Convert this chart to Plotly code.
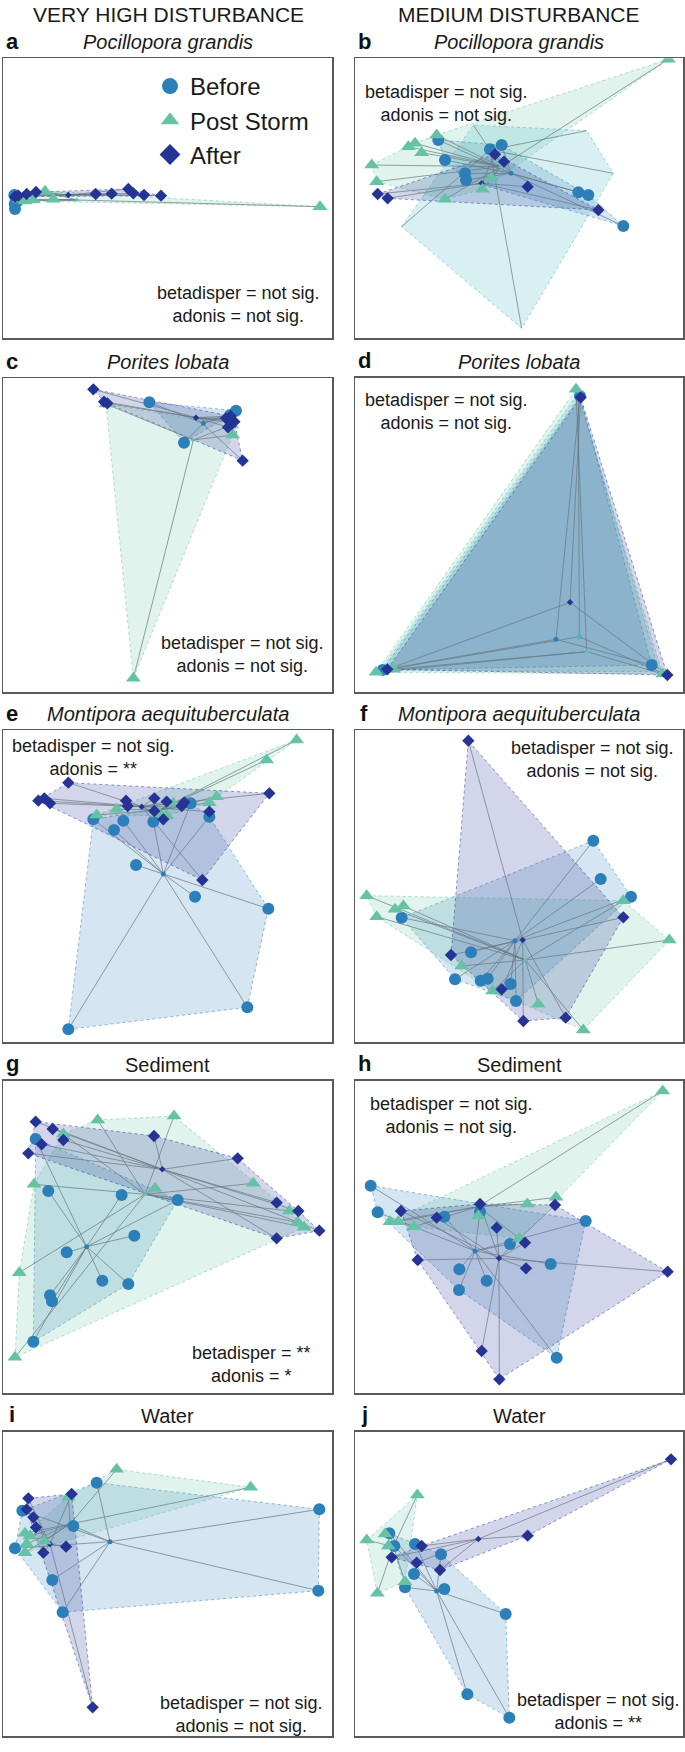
import plotly.graph_objects as go

W, H = 685, 1752

# ---------------- DATA (ordination scores, image units) ----------------
GROUPS = ["Before", "Post Storm", "After"]

a_before = [(43, 585), (47, 596), (52, 604), (44, 612), (45, 627)]
a_post = [(58, 598), (75, 603), (135, 574), (160, 598), (100, 600), (960, 620)]
a_after = [(45, 590), (80, 582), (108, 576), (287, 582), (335, 581), (385, 567), (400, 580),
           (432, 585), (483, 587), (55, 587)]
a_centroids = [(48, 606), (230, 600), (205, 585)]

b_before = [(295, 420), (315, 480), (375, 520), (378, 540), (450, 448), (485, 435), (715, 577),
            (745, 585), (850, 678)]
b_post = [(985, 178), (95, 495), (110, 545), (205, 440), (225, 430), (245, 458), (290, 405),
          (315, 598), (427, 568), (455, 535)]
b_after = [(113, 582), (143, 595), (465, 463), (492, 485), (563, 560), (775, 630)]
b_unlabelled = [(400, 375), (740, 392), (820, 520), (545, 985), (185, 680)]
b_centroids = [(513, 520), (482, 500), (425, 550)]
b_unlabelled_centroid = (450, 450)

c_before = [(448, 187), (552, 308), (708, 212), (690, 226)]
c_post = [(318, 192), (400, 1015), (698, 285), (695, 255)]
c_after = [(280, 148), (312, 185), (322, 190), (678, 235), (690, 240), (697, 250), (684, 262),
           (703, 245), (728, 362), (692, 228)]
c_centroids = [(610, 250), (580, 300), (588, 233)]

d_before = [(720, 168), (128, 990), (935, 975)]
d_post = [(708, 148), (108, 997), (160, 988), (968, 1002)]
d_after = [(722, 172), (142, 988), (982, 1005)]
d_unlabelled = [(715, 160), (120, 992), (958, 995)]
d_centroids = [(648, 898), (740, 935), (690, 787)]
d_unlabelled_centroid = (718, 890)

e_before = [(280, 448), (342, 480), (370, 452), (460, 455), (572, 400), (628, 440), (408, 585),
            (585, 680), (805, 716), (742, 1012), (205, 1078)]
e_post = [(890, 210), (800, 270), (650, 380), (628, 398), (520, 400), (500, 437), (350, 418),
          (290, 435), (475, 432)]
e_after = [(205, 338), (115, 392), (133, 385), (150, 400), (378, 392), (383, 408), (463, 385),
           (500, 395), (463, 423), (490, 448), (545, 408), (553, 397), (628, 425), (808, 370),
           (607, 630)]
e_centroids = [(490, 612), (480, 420), (425, 410)]

f_before = [(760, 512), (782, 627), (873, 680), (185, 743), (393, 847), (345, 928), (422, 932),
            (443, 926), (512, 942), (528, 993)]
f_post = [(80, 677), (110, 740), (165, 718), (190, 708), (850, 692), (365, 888), (458, 963),
          (595, 1003), (730, 1080), (988, 810)]
f_after = [(385, 212), (850, 742), (333, 855), (485, 958), (550, 1053), (677, 1043)]
f_centroids = [(525, 812), (556, 870), (548, 810)]

g_before = [(107, 357), (145, 513), (365, 525), (533, 540), (403, 647), (200, 697), (307, 782),
            (385, 792), (150, 826), (156, 844), (100, 965)]
g_post = [(293, 300), (522, 288), (190, 342), (102, 493), (465, 505), (760, 490), (868, 573),
          (893, 607), (912, 622), (58, 758), (45, 1012)]
g_after = [(107, 305), (158, 327), (190, 360), (125, 373), (85, 400), (462, 348), (713, 415),
           (830, 548), (895, 573), (958, 632), (830, 655)]
g_centroids = [(260, 680), (435, 523), (487, 448)]

h_before = [(92, 497), (113, 577), (313, 590), (420, 575), (737, 603), (510, 672), (632, 732),
            (358, 748), (440, 782), (357, 810), (650, 1013)]
h_post = [(968, 213), (648, 532), (562, 552), (150, 605), (175, 605), (222, 620), (415, 588),
          (538, 655)]
h_after = [(183, 573), (290, 593), (420, 552), (645, 555), (470, 623), (555, 668), (558, 745),
           (983, 755), (425, 993), (478, 1078), (233, 720)]
h_centroids = [(405, 693), (415, 560), (477, 715)]

i_before = [(290, 338), (67, 422), (220, 468), (45, 535), (157, 630), (188, 727), (958, 418),
            (955, 662)]
i_post = [(350, 298), (752, 352), (205, 382), (75, 490), (90, 498), (80, 522), (75, 548),
          (133, 513)]
i_after = [(85, 385), (215, 372), (80, 418), (100, 442), (108, 472), (130, 548), (198, 530),
           (278, 1012)]
i_centroids = [(330, 515), (210, 462), (150, 522)]

j_before = [(163, 528), (225, 522), (303, 553), (222, 612), (195, 652), (313, 657), (497, 732),
            (382, 973), (508, 1043), (148, 490)]
j_post = [(232, 375), (80, 510), (135, 492), (145, 528), (195, 635), (112, 670)]
j_after = [(993, 268), (563, 497), (245, 528), (155, 562), (230, 578), (300, 600)]
j_centroids = [(290, 663), (160, 530), (415, 507)]

panel_letters = ["a", "b", "c", "d", "e", "f", "g", "h", "i", "j"]
panel_titles = ["<i>Pocillopora grandis</i>", "<i>Pocillopora grandis</i>",
                "<i>Porites lobata</i>", "<i>Porites lobata</i>",
                "<i>Montipora aequituberculata</i>", "<i>Montipora aequituberculata</i>",
                "Sediment", "Sediment", "Water", "Water"]
column_titles = ["VERY HIGH DISTURBANCE", "MEDIUM DISTURBANCE"]
stats_text = [
    "betadisper = not sig.<br>adonis = not sig.",
    "betadisper = not sig.<br>adonis = not sig.",
    "betadisper = not sig.<br>adonis = not sig.",
    "betadisper = not sig.<br>adonis = not sig.",
    "betadisper = not sig.<br>adonis = **",
    "betadisper = not sig.<br>adonis = not sig.",
    "betadisper = **<br>adonis = *",
    "betadisper = not sig.<br>adonis = not sig.",
    "betadisper = not sig.<br>adonis = not sig.",
    "betadisper = not sig.<br>adonis = **",
]

# ---------------- STYLE / LAYOUT ----------------
COLORS = {"Before": (44, 127, 184), "Post Storm": (102, 194, 164), "After": (37, 52, 148),
          "other": (65, 182, 196)}
SYMBOLS = {"Before": "circle", "Post Storm": "triangle-up", "After": "diamond"}
MSIZE = {"Before": 12, "Post Storm": 13, "After": 9.5}
FONT = "Liberation Sans, Arial, sans-serif"
TXT = "#1a1a1a"

# (image origin px, x-range, y-range) of each panel's frame
frames = {
    "a": ((0, 0), (10, 997), (1015, 175)),
    "b": ((340, 0), (45, 1030), (1015, 175)),
    "c": ((0, 340), (10, 997), (1056, 115)),
    "d": ((340, 340), (45, 1030), (1056, 113)),
    "e": ((0, 670), (10, 997), (1116, 180)),
    "f": ((340, 670), (45, 1030), (1116, 180)),
    "g": ((0, 1020), (10, 997), (1119, 182)),
    "h": ((340, 1020), (45, 1030), (1119, 182)),
    "i": ((0, 1370), (10, 997), (1098, 185)),
    "j": ((340, 1370), (45, 1030), (1098, 185)),
}
stats_pos = {"a": (239, 304), "b": (447, 104), "c": (243, 655), "d": (447, 411),
             "e": (93, 757), "f": (592, 759), "g": (252, 1364), "h": (452, 1115),
             "i": (241, 1714), "j": (598, 1711)}

panels = {
    "a": ([a_before, a_post, a_after], a_centroids, None, None),
    "b": ([b_before, b_post, b_after], b_centroids, b_unlabelled, b_unlabelled_centroid),
    "c": ([c_before, c_post, c_after], c_centroids, None, None),
    "d": ([d_before, d_post, d_after], d_centroids, d_unlabelled, d_unlabelled_centroid),
    "e": ([e_before, e_post, e_after], e_centroids, None, None),
    "f": ([f_before, f_post, f_after], f_centroids, None, None),
    "g": ([g_before, g_post, g_after], g_centroids, None, None),
    "h": ([h_before, h_post, h_after], h_centroids, None, None),
    "i": ([i_before, i_post, i_after], i_centroids, None, None),
    "j": ([j_before, j_post, j_after], j_centroids, None, None),
}


def rgba(c, a):
    return f"rgba({c[0]},{c[1]},{c[2]},{a})"


def convex_hull(pts):
    pts = sorted(set(pts))
    if len(pts) < 3:
        return pts

    def cross(o, a, b):
        return (a[0] - o[0]) * (b[1] - o[1]) - (a[1] - o[1]) * (b[0] - o[0])
    lower, upper = [], []
    for p in pts:
        while len(lower) >= 2 and cross(lower[-2], lower[-1], p) <= 0:
            lower.pop()
        lower.append(p)
    for p in reversed(pts):
        while len(upper) >= 2 and cross(upper[-2], upper[-1], p) <= 0:
            upper.pop()
        upper.append(p)
    return lower[:-1] + upper[:-1]


fig = go.Figure()
layout_axes = {}
annotations = []

for idx, key in enumerate(panel_letters):
    (ox, oy), xr, yr = frames[key]
    pl, pr = ox + xr[0] / 3, ox + xr[1] / 3
    pt, pb = oy + yr[1] / 3, oy + yr[0] / 3
    n = idx + 1
    xa, ya = ("x", "y") if n == 1 else (f"x{n}", f"y{n}")
    axis_common = dict(showgrid=False, zeroline=False, showticklabels=False, ticks="",
                       showline=True, mirror=True, linecolor="#5a5a5a", linewidth=1.5,
                       fixedrange=True)
    layout_axes["xaxis" if n == 1 else f"xaxis{n}"] = dict(
        domain=[pl / W, pr / W], range=list(xr), anchor=ya, **axis_common)
    layout_axes["yaxis" if n == 1 else f"yaxis{n}"] = dict(
        domain=[1 - pb / H, 1 - pt / H], range=list(yr), anchor=xa, **axis_common)

    groups, cents, extra, extra_c = panels[key]

    # hulls
    hull_sets = []
    if extra is not None:
        hull_sets.append(("other", extra, extra_c))
    for g, pts, c in zip(GROUPS, groups, cents):
        hull_sets.append((g, pts, c))
    for g, pts, c in hull_sets:
        hull = convex_hull(pts)
        hx = [p[0] for p in hull] + [hull[0][0]]
        hy = [p[1] for p in hull] + [hull[0][1]]
        fig.add_trace(go.Scatter(x=hx, y=hy, mode="lines", fill="toself",
                                 fillcolor=rgba(COLORS[g], 0.2),
                                 line=dict(color=rgba(COLORS[g], 0.5), width=1, dash="dot"),
                                 xaxis=xa, yaxis=ya, showlegend=False, hoverinfo="skip"))
    # spider lines
    sx, sy = [], []
    for g, pts, c in hull_sets:
        for p in pts:
            sx += [c[0], p[0], None]
            sy += [c[1], p[1], None]
    fig.add_trace(go.Scatter(x=sx, y=sy, mode="lines",
                             line=dict(color="rgba(105,120,130,0.7)", width=1),
                             xaxis=xa, yaxis=ya, showlegend=False, hoverinfo="skip"))
    # centroids
    for g, pts, c in hull_sets:
        fig.add_trace(go.Scatter(x=[c[0]], y=[c[1]], mode="markers",
                                 marker=dict(color=rgba(COLORS[g], 1), size=5,
                                             symbol=SYMBOLS.get(g, "circle")),
                                 xaxis=xa, yaxis=ya, showlegend=False, hoverinfo="skip"))
    # points
    for g, pts in zip(GROUPS, groups):
        fig.add_trace(go.Scatter(x=[p[0] for p in pts], y=[p[1] for p in pts], mode="markers",
                                 marker=dict(color=rgba(COLORS[g], 1), size=MSIZE[g],
                                             symbol=SYMBOLS[g], line=dict(width=0)),
                                 xaxis=xa, yaxis=ya, showlegend=False, name=g))

    # titles
    cx = (pl + pr) / 2
    annotations.append(dict(x=cx / W, y=1 - (pt - 16) / H, xref="paper", yref="paper",
                            text=panel_titles[idx], showarrow=False,
                            font=dict(size=20, family=FONT, color=TXT),
                            xanchor="center", yanchor="middle"))
    lx = 12 if pl < 100 else 364
    annotations.append(dict(x=lx / W, y=1 - (pt - 17) / H, xref="paper", yref="paper",
                            text=f"<b>{key}</b>", showarrow=False,
                            font=dict(size=22, family=FONT, color="#111"),
                            xanchor="center", yanchor="middle"))
    sx_, sy_ = stats_pos[key]
    annotations.append(dict(x=sx_ / W, y=1 - sy_ / H, xref="paper", yref="paper",
                            text=stats_text[idx], showarrow=False, align="center",
                            font=dict(size=18, family=FONT, color=TXT),
                            xanchor="center", yanchor="middle"))

annotations.append(dict(x=168 / W, y=1 - 15 / H, xref="paper", yref="paper",
                        text=column_titles[0], showarrow=False,
                        font=dict(size=21, family=FONT, color=TXT),
                        xanchor="center", yanchor="middle"))
annotations.append(dict(x=519 / W, y=1 - 15 / H, xref="paper", yref="paper",
                        text=column_titles[1], showarrow=False,
                        font=dict(size=21, family=FONT, color=TXT),
                        xanchor="center", yanchor="middle"))

# legend entries
for g in GROUPS:
    fig.add_trace(go.Scatter(x=[None], y=[None], mode="markers", name=g,
                             marker=dict(color=rgba(COLORS[g], 1), size=18, symbol=SYMBOLS[g]),
                             xaxis="x", yaxis="y", showlegend=True))

fig.update_layout(
    width=W, height=H, margin=dict(l=0, r=0, t=0, b=0),
    paper_bgcolor="white", plot_bgcolor="white",
    annotations=annotations,
    legend=dict(x=150 / W, y=1 - 64 / H, xanchor="left", yanchor="top",
                font=dict(size=24, family=FONT, color=TXT), bgcolor="rgba(0,0,0,0)",
                itemsizing="trace", tracegroupgap=0),
    **layout_axes,
)

fig.write_html(
    "out.html",
    config={"displayModeBar": False, "staticPlot": True},
    post_script="document.body.style.margin='0px';document.body.style.overflow='hidden';",
)
